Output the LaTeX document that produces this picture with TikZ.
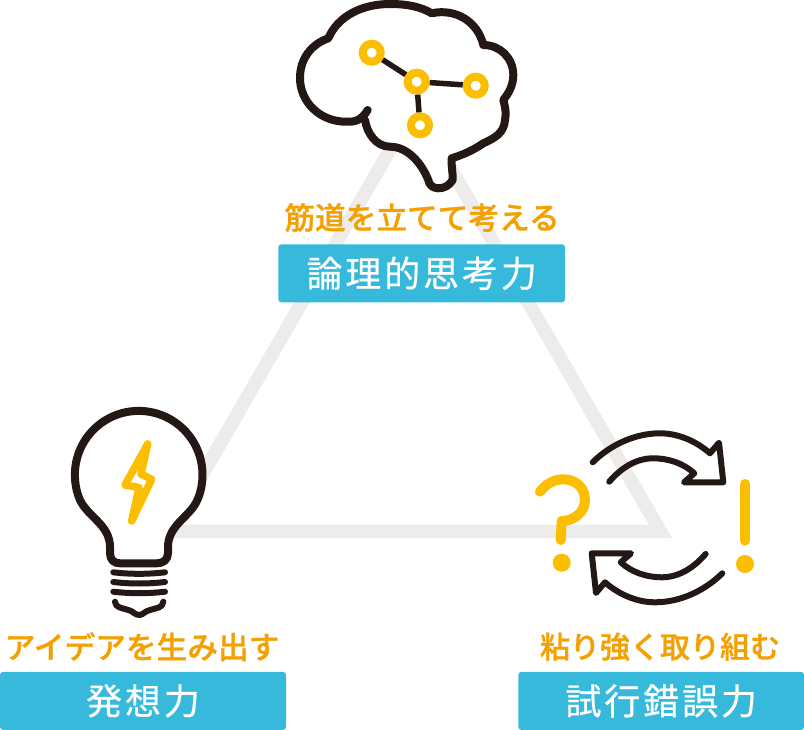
\documentclass[tikz,border=0pt]{standalone}
\usepackage{fontspec}
\usepackage{tikz}
\newfontfamily\cjk[FakeBold=1]{Noto Sans CJK JP Medium}
\newfontfamily\cjkbox[LetterSpace=8,FakeBold=0.5]{Noto Sans CJK JP}
\definecolor{inkblack}{HTML}{231815}
\definecolor{ringyellow}{HTML}{FBBE00}
\definecolor{triangray}{HTML}{EDECEA}
\definecolor{capcolor}{HTML}{F4A000}
\definecolor{boxblue}{HTML}{37B9DB}
\tikzset{
    inkline/.style={draw=inkblack,line width=8pt,line cap=round,line join=round},
    thinink/.style={draw=inkblack,line width=6pt,line cap=round,line join=round},
    yellowline/.style={draw=ringyellow,line width=10pt,line cap=round,line join=round},
    ring/.style={circle,draw=ringyellow,fill=white,line width=8pt,minimum size=18pt,inner sep=0pt},
    dot/.style={circle,fill=ringyellow,minimum size=18pt,inner sep=0pt},
    caption/.style={text=capcolor,inner sep=0pt,font=\cjk\fontsize{30.7}{30.7}\selectfont},
    labelbox/.style={fill=boxblue,text=white,rounded corners=3pt,inner sep=0pt,minimum height=58pt,font=\cjkbox\fontsize{36}{36}\selectfont},
}
\begin{document}
\begin{tikzpicture}[x=1pt,y=-1pt]
    \useasboundingbox (0,0) rectangle (804,730);
    \draw[triangray,line width=13.5pt,miter limit=10] (415,106.5) -- (660.3,531.25) -- (169.7,531.25) -- cycle;

    \draw[inkline,fill=white] (367.7,110) .. controls (361,121) and (354,122) .. (346.7,121.7)
        .. controls (320,122) and (300,102) .. (300,78)
        .. controls (300,58) and (312,44) .. (328.3,38.3)
        .. controls (338,16) and (362,4) .. (390,4)
        .. controls (408,4) and (421,7) .. (431.7,13.3)
        .. controls (456,8) and (478,22) .. (483.3,45)
        .. controls (500,45) and (513.3,58) .. (513.3,75)
        .. controls (513.3,86) and (508,94) .. (503.3,100)
        .. controls (506,110) and (506,114) .. (505,120)
        .. controls (504,133) and (495,138) .. (483.3,143.3)
        .. controls (472,151) and (462,155) .. (451.7,158.3)
        .. controls (451,165) and (453,173) .. (452.7,180)
        .. controls (449,186) and (444,188.3) .. (438.3,188.3)
        .. controls (433,188.3) and (429,185) .. (428.3,180)
        .. controls (421,162) and (407,146.7) .. (390,146.7)
        .. controls (376,146.7) and (367,133) .. (365,120);

    \node[ring] (ringa) at (371.7,52.7) {};
    \node[ring] (ringb) at (416.7,81.7) {};
    \node[ring] (ringc) at (475.7,85.7) {};
    \node[ring] (ringd) at (420,125.3) {};
    \draw[inkblack,line width=5.5pt] (ringa) -- (ringb);
    \draw[inkblack,line width=5.5pt] (ringb) -- (ringc);
    \draw[inkblack,line width=5.5pt] (ringb) -- (ringd);

    \draw[inkline,fill=white] (80,500) .. controls (76.5,492) and (74.9,483.5) .. (74.9,474.7)
        .. controls (74.9,439.5) and (103.5,410.9) .. (138.7,410.9)
        .. controls (173.9,410.9) and (202.5,439.5) .. (202.5,474.7)
        .. controls (202.5,483.5) and (200.9,492) .. (197.4,500)
        .. controls (190,517) and (168,525) .. (168,547) -- (168,553)
        .. controls (168,560) and (163,563.3) .. (157,563.3) -- (120,563.3)
        .. controls (114,563.3) and (110,560) .. (110,553) -- (110,547)
        .. controls (110,525) and (88,517) .. (80,500) -- cycle;
    \draw[thinink] (113.3,572.3) .. controls (130,574.3) and (148,574.3) .. (165,572.3);
    \draw[thinink] (113.3,582) .. controls (130,584) and (148,584) .. (165,582);
    \draw[thinink] (113.3,591.7) .. controls (130,593.7) and (148,593.7) .. (165,591.7);
    \draw[thinink] (115,601.7) .. controls (115,608) and (123,608) .. (128.3,610)
        .. controls (133,611) and (135,615) .. (139.3,615)
        .. controls (143,615) and (145,611) .. (150,610)
        .. controls (156,608) and (163,608) .. (163.3,601.7);
    \draw[ringyellow,line width=7.5pt,line join=round] (147.7,444) -- (125,485) -- (139,487.5)
        -- (131.7,521) -- (151.7,479.3) -- (141,474) -- cycle;

    \draw[thinink] (592.7,462.3) .. controls (610,445) and (635,433.3) .. (660,433.3)
        .. controls (678,433.3) and (696,441) .. (710,453.3)
        -- (719,442.7) -- (723.3,482.3) -- (684,482.3) -- (694.3,473.3)
        .. controls (683,463) and (668,458.3) .. (653.3,458.3)
        .. controls (636,458.3) and (621,468) .. (609.3,481.7);
    \draw[thinink] (722.3,573.3) .. controls (705,590.6) and (680,602.3) .. (655,602.3)
        .. controls (637,602.3) and (619,594.6) .. (605,582.3)
        -- (596,592.9) -- (591.7,553.3) -- (631,553.3) -- (620.7,562.3)
        .. controls (632,572.6) and (647,577.3) .. (661.7,577.3)
        .. controls (679,577.3) and (694,567.6) .. (705.7,553.9);

    \draw[yellowline] (540,491.7) .. controls (546,484) and (554,479.3) .. (563.3,479.3)
        .. controls (576,479.3) and (585,488) .. (585,500)
        .. controls (585,512) and (574,521) .. (561.7,521) -- (560.7,540);
    \node[dot] (dotq) at (561.7,562.7) {};
    \draw[yellowline] (745.3,484) -- (745.3,540.7);
    \node[dot] (dotx) at (745,564) {};

    \node[caption] (captop) at (422,217.5) {筋道を立てて考える};
    \node[labelbox,minimum width=286.7pt] (boxtop) at (421.7,273.3) {論理的思考力};
    \node[caption] (capleft) at (142,646.7) {アイデアを生み出す};
    \node[labelbox,minimum width=286pt] (boxleft) at (143,700.9) {発想力};
    \node[caption,font=\cjk\fontsize{30}{30}\selectfont] (capright) at (660,646.7) {粘り強く取り組む};
    \node[labelbox,minimum width=285.7pt] (boxright) at (661.2,700.9) {試行錯誤力};
\end{tikzpicture}
\end{document}
